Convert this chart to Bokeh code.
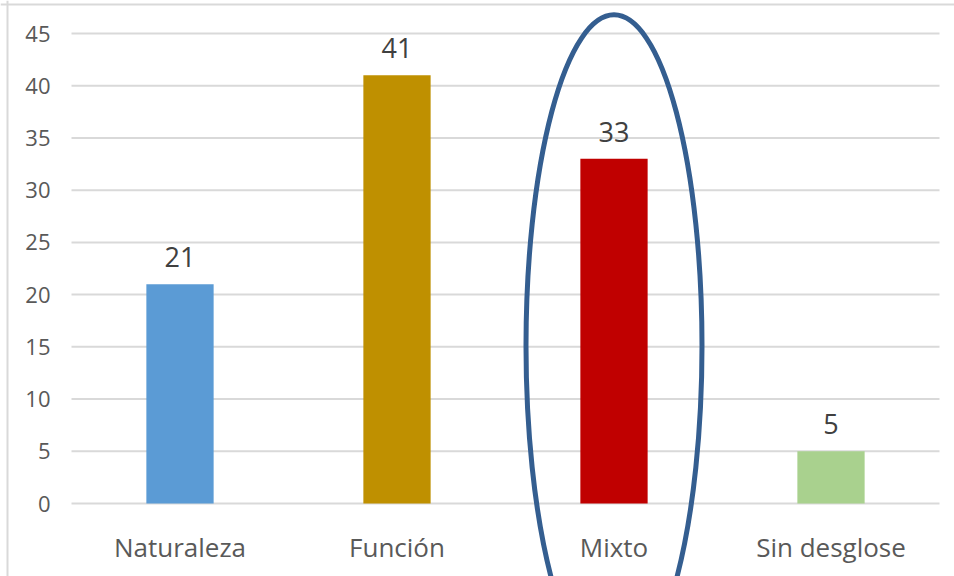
from bokeh.plotting import figure
from bokeh.models import Range1d, Span, ColumnDataSource
from bokeh.core.properties import value
from bokeh.embed import file_html
from bokeh.resources import INLINE

categories = ["Naturaleza", "Función", "Mixto", "Sin desglose"]
counts = [21, 41, 33, 5]
bar_colors = ["#5B9BD5", "#BF9000", "#C00000", "#A9D18E"]
y_ticks = [0, 5, 10, 15, 20, 25, 30, 35, 40, 45]
highlight = "Mixto"

W, H = 954, 576
FONT = "Open Sans"

# pixel geometry of the plotting area
px_left, px_right = 71, 939
px_zero, px_top = 503, 33
unit_x = (px_right - px_left) / len(categories)
unit_y = (px_zero - px_top) / max(y_ticks)

x_start = -px_left / unit_x
x_end = (W - px_left) / unit_x
y_end = max(y_ticks) + px_top / unit_y
y_start = -(H - px_zero) / unit_y

p = figure(width=W, height=H, output_backend="svg", toolbar_location=None,
           x_range=Range1d(x_start, x_end), y_range=Range1d(y_start, y_end),
           min_border=0, x_axis_type=None, y_axis_type=None)
p.outline_line_color = None
p.xgrid.visible = False
p.ygrid.visible = False
p.background_fill_color = "white"
p.border_fill_color = "white"

xs = [i + 0.5 for i in range(len(categories))]

# gridlines
p.segment(x0=[0] * len(y_ticks), x1=[len(categories)] * len(y_ticks),
          y0=y_ticks, y1=y_ticks, line_color="#D9D9D9", line_width=2)

# y tick labels
p.text(x=[0] * len(y_ticks), y=y_ticks, text=[str(t) for t in y_ticks],
       text_align="right", text_baseline="middle", x_offset=-21,
       text_font=value(FONT), text_font_size="22px", text_color="#595959")

src = ColumnDataSource(dict(x=xs, top=counts, color=bar_colors,
                            cat=categories, lbl=[str(c) for c in counts]))
p.vbar(x="x", top="top", bottom=0, width=0.31, fill_color="color",
       line_color=None, source=src)

# value labels
p.text(x="x", y="top", text="lbl", source=src, text_align="center",
       text_baseline="bottom", y_offset=-17,
       text_font=value(FONT), text_font_size="27px", text_color="#404040")

# category labels
p.text(x="x", y=0, text="cat", source=src, text_align="center",
       text_baseline="middle", y_offset=43,
       text_font=value(FONT), text_font_size="26px", text_color="#595959")

# highlight ellipse
hx = categories.index(highlight) + 0.5
p.ellipse(x=[hx], y=[15.1], width=[176], height=[662],
          width_units="screen", height_units="screen",
          fill_alpha=0, line_color="#345E90", line_width=5)

# chart border (left & top)
p.add_layout(Span(location=7, location_units="screen", dimension="height",
                  line_color="#D9D9D9", line_width=2))
p.add_layout(Span(location=H - 4, location_units="screen", dimension="width",
                  line_color="#D9D9D9", line_width=2))

open("out.html", "w").write(file_html(p, INLINE))
